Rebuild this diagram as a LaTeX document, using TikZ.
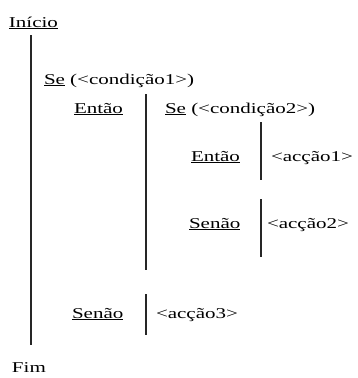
\documentclass[tikz,border=0pt]{standalone}
\usepackage{fontspec}
\setmainfont[FakeStretch=1.4]{Liberation Serif}
\begin{document}
\begin{tikzpicture}[x=1pt,y=-1pt,
  txt/.style={anchor=base west,inner sep=0pt,outer sep=0pt,
    font=\fontsize{15}{18}\selectfont},
  bar/.style={line width=1.2pt,draw=black!85}]
\useasboundingbox (0,0) rectangle (358,378);
% keywords and actions
\node[txt] (inicio) at (9,27) {\underline{Início}};
\node[txt] (se1)    at (44,84) {\underline{Se} (<condição1>)};
\node[txt] (entao1) at (74,113) {\underline{Então}};
\node[txt] (se2)    at (165,113) {\underline{Se} (<condição2>)};
\node[txt] (entao2) at (191,161) {\underline{Então}};
\node[txt] (accao1) at (271,161) {<acção1>};
\node[txt] (senao2) at (189,228) {\underline{Senão}};
\node[txt] (accao2) at (267,228) {<acção2>};
\node[txt] (senao1) at (72,318) {\underline{Senão}};
\node[txt] (accao3) at (156,318) {<acção3>};
\node[txt] (fim)    at (12,372) {Fim};
% block bars
\draw[bar] (31,35) -- (31,345);
\draw[bar] (146,94) -- (146,270);
\draw[bar] (261,122) -- (261,180);
\draw[bar] (261,199) -- (261,257);
\draw[bar] (146,294) -- (146,335);
\end{tikzpicture}
\end{document}
